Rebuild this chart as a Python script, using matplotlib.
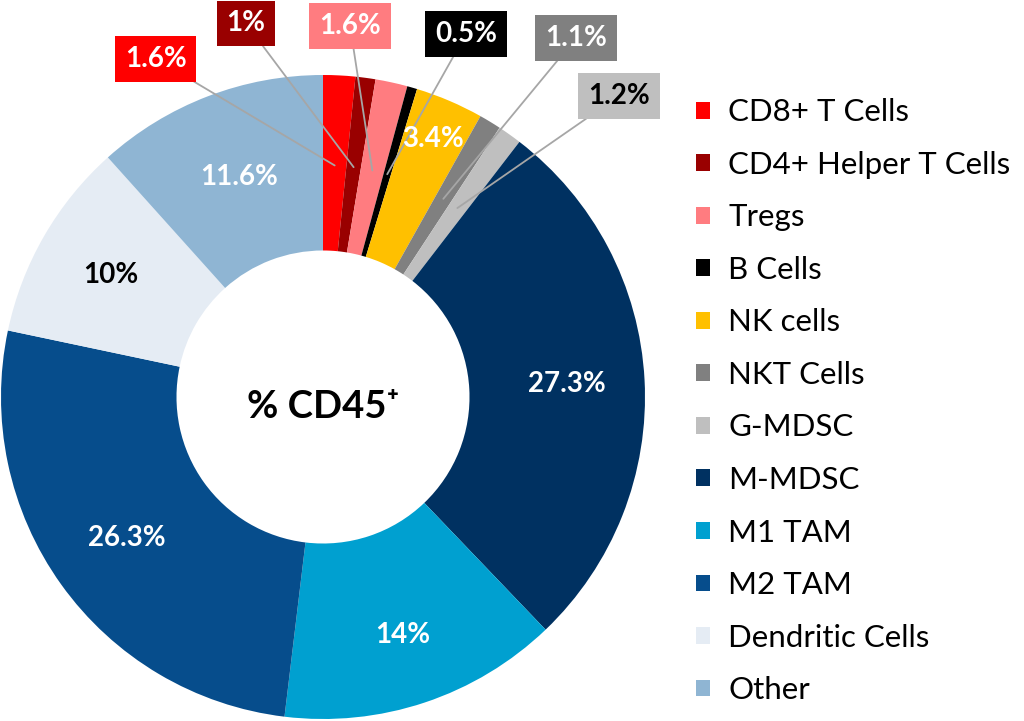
import numpy as np
import matplotlib.pyplot as plt

plt.rcParams['font.family'] = ['Lato', 'DejaVu Sans']

# data
cell_types = ["CD8+ T Cells", "CD4+ Helper T Cells", "Tregs", "B Cells", "NK cells",
              "NKT Cells", "G-MDSC", "M-MDSC", "M1 TAM", "M2 TAM",
              "Dendritic Cells", "Other"]
pct = [1.6, 1, 1.6, 0.5, 3.4, 1.1, 1.2, 27.3, 14, 26.3, 10, 11.6]
pct_labels = ["1.6%", "1%", "1.6%", "0.5%", "3.4%", "1.1%", "1.2%",
              "27.3%", "14%", "26.3%", "10%", "11.6%"]
colors = ["#FF0000", "#990000", "#FF7C80", "#000000", "#FFC000", "#808080",
          "#BFBFBF", "#003161", "#00A0D0", "#064D8C", "#E5ECF4", "#8FB5D3"]

# callouts for the thin slices: index -> (text pos, text colour)
callouts = {
    0: ((-0.519, 1.050), "white"),
    1: ((-0.239, 1.160), "white"),
    2: ((0.084, 1.152), "white"),
    3: ((0.444, 1.127), "white"),
    5: ((0.786, 1.115), "white"),
    6: ((0.919, 0.935), "black"),
}
inside_dist = {4: 0.87, 7: 0.76, 8: 0.78, 9: 0.75, 10: 0.76, 11: 0.73}
inside_color = {10: "black"}

fig = plt.figure(figsize=(10.24, 7.21), dpi=100)
ax = fig.add_axes([1 / 1024, 2 / 721, 644 / 1024, 644 / 721])

wedges, _ = ax.pie(pct, colors=colors, startangle=90, counterclock=False,
                   wedgeprops=dict(width=0.545, linewidth=0))
ax.set_xlim(-1, 1)
ax.set_ylim(-1, 1)
ax.set_aspect("equal")

for i, w in enumerate(wedges):
    mid = np.deg2rad((w.theta1 + w.theta2) / 2)
    if i in callouts:
        pos, tc = callouts[i]
        r = 0.72
        ax.annotate(pct_labels[i], xy=(r * np.cos(mid), r * np.sin(mid)),
                    xytext=pos, ha="center", va="center", fontsize=20,
                    fontweight="bold", color=tc, annotation_clip=False,
                    bbox=dict(boxstyle="square,pad=0.35", fc=colors[i], ec="none"),
                    arrowprops=dict(arrowstyle="-", color="#A6A6A6", lw=1.3,
                                    shrinkA=0, shrinkB=0))
    else:
        r = inside_dist[i]
        ax.text(r * np.cos(mid), r * np.sin(mid), pct_labels[i], ha="center",
                va="center", fontsize=20, fontweight="bold",
                color=inside_color.get(i, "white"))

ax.text(0, -0.03, "% CD45\u207a", ha="center", va="center", fontsize=27.5,
        fontweight="bold")

fig.legend(wedges, cell_types, loc="upper left", bbox_to_anchor=(0.667, 0.881),
           frameon=False, fontsize=22.5, handlelength=0.45, handleheight=0.45,
           handletextpad=0.6, labelspacing=0.785, borderaxespad=0)

fig.savefig("out.png", dpi=100)
